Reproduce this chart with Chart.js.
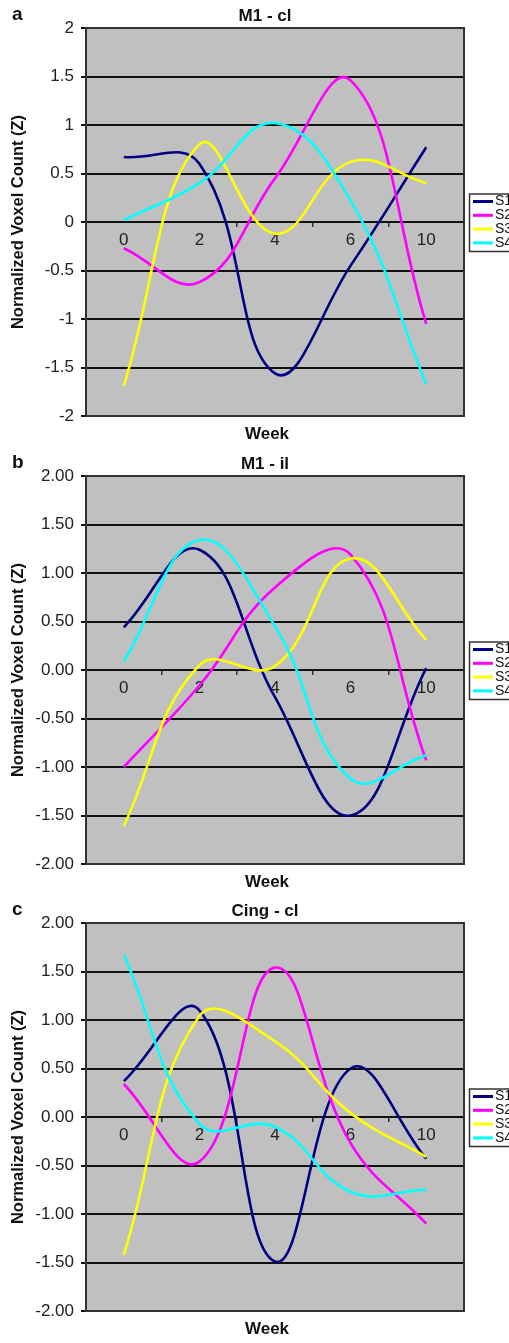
<!DOCTYPE html>
<html>
<head>
<meta charset="utf-8">
<script src="https://cdn.jsdelivr.net/npm/chart.js@4.4.0/dist/chart.umd.min.js"></script>
<style>
    body { margin: 0; background: #fff; width: 509px; height: 1343px; overflow: hidden; position: relative; }
    canvas { position: absolute; left: 0; }
</style>
</head>
<body>
<canvas id="chartA" width="509" height="448" style="top:0px"></canvas>
<canvas id="chartB" width="509" height="448" style="top:448px"></canvas>
<canvas id="chartC" width="509" height="448" style="top:895px"></canvas>
<script>
// categories (week) and series names
var weeks = ['0', '2', '4', '6', '10'];
var seriesNames = ['S1', 'S2', 'S3', 'S4'];
var seriesColors = ['#000080', '#ff00ff', '#ffff00', '#00ffff'];
var yTickValues = [-2, -1.5, -1, -0.5, 0, 0.5, 1, 1.5, 2];

// a: M1 - cl
var m1clS1 = [0.67, 0.60, -1.56, -0.45, 0.77];
var m1clS2 = [-0.27, -0.62, 0.45, 1.46, -1.05];
var m1clS3 = [-1.69, 0.80, -0.12, 0.62, 0.40];
var m1clS4 = [0.02, 0.40, 1.02, 0.22, -1.67];

// b: M1 - il
var m1ilS1 = [0.44, 1.24, -0.28, -1.50, 0.02];
var m1ilS2 = [-1.00, -0.16, 0.85, 1.19, -0.93];
var m1ilS3 = [-1.61, 0.05, 0.04, 1.15, 0.31];
var m1ilS4 = [0.09, 1.34, 0.45, -1.12, -0.88];

// c: Cing - cl
var cingS1 = [0.37, 1.10, -1.49, 0.50, -0.43];
var cingS2 = [0.34, -0.46, 1.54, -0.27, -1.10];
var cingS3 = [-1.42, 1.04, 0.78, 0.04, -0.41];
var cingS4 = [1.67, -0.07, -0.10, -0.77, -0.75];

Chart.defaults.font.family = "'Liberation Sans', Arial, sans-serif";
Chart.defaults.color = '#111';

// grey plot area, frame, letter, titles and legend box
var panelDecor = {
    id: 'panelDecor',
    beforeDraw: function (chart) {
        var a = chart.chartArea;
        var ctx = chart.ctx;
        ctx.save();
        ctx.fillStyle = '#c0c0c0';
        ctx.fillRect(a.left, a.top, a.right - a.left, a.bottom - a.top);
        ctx.restore();
    },
    afterDatasetsDraw: function (chart) {
        var a = chart.chartArea;
        var ctx = chart.ctx;
        ctx.save();
        ctx.strokeStyle = '#333';
        ctx.lineWidth = 2;
        ctx.strokeRect(a.left, a.top, a.right - a.left, a.bottom - a.top);
        ctx.restore();
    },
    afterDraw: function (chart, args, opts) {
        var a = chart.chartArea;
        var ctx = chart.ctx;
        var fam = Chart.defaults.font.family;
        ctx.save();
        ctx.fillStyle = '#111';
        ctx.textBaseline = 'middle';

        ctx.font = 'bold 19px ' + fam;
        ctx.textAlign = 'left';
        ctx.fillText(opts.letter, 12, 15);

        ctx.font = 'bold 17px ' + fam;
        ctx.textAlign = 'center';
        ctx.fillText(opts.title, 265, a.top - 12);
        ctx.fillText('Week', 267, a.bottom + 18);

        // legend
        var boxTop = a.top + 166;
        ctx.fillStyle = '#fff';
        ctx.fillRect(469.5, boxTop, 50, 57.5);
        ctx.strokeStyle = '#333';
        ctx.lineWidth = 1.5;
        ctx.strokeRect(469.5, boxTop, 50, 57.5);
        ctx.font = '14px ' + fam;
        ctx.textAlign = 'left';
        chart.data.datasets.forEach(function (ds, i) {
            var y = boxTop + 7.5 + i * 13.8;
            ctx.strokeStyle = ds.borderColor;
            ctx.lineWidth = 3;
            ctx.beginPath();
            ctx.moveTo(473, y);
            ctx.lineTo(493, y);
            ctx.stroke();
            ctx.fillStyle = '#111';
            ctx.fillText(ds.label, 495, y);
        });
        ctx.restore();
    }
};

function makeDatasets(values) {
    var sets = [];
    for (var i = 0; i < values.length; i++) {
        sets.push({
            label: seriesNames[i],
            data: values[i],
            borderColor: seriesColors[i],
            backgroundColor: seriesColors[i],
            borderWidth: 2.6,
            pointRadius: 0,
            fill: false,
            tension: 0.42,
            order: values.length - i
        });
    }
    return sets;
}

function drawPanel(canvasId, letter, title, values, decimals) {
    var ctx = document.getElementById(canvasId).getContext('2d');
    return new Chart(ctx, {
        type: 'line',
        data: {
            labels: weeks,
            datasets: makeDatasets(values)
        },
        plugins: [panelDecor],
        options: {
            responsive: false,
            animation: false,
            layout: { padding: { left: 0, right: 45, top: 28, bottom: 32 } },
            plugins: {
                legend: { display: false },
                tooltip: { enabled: false },
                panelDecor: { letter: letter, title: title }
            },
            scales: {
                x: {
                    type: 'category',
                    position: { y: 0 },
                    offset: true,
                    grid: {
                        display: true,
                        drawOnChartArea: false,
                        drawTicks: true,
                        tickLength: 4,
                        offset: true,
                        color: '#333',
                        lineWidth: 1.5
                    },
                    border: { display: true, color: '#111', width: 2 },
                    ticks: {
                        padding: 4,
                        maxRotation: 0,
                        autoSkip: false,
                        color: '#222',
                        font: { size: 17 }
                    }
                },
                y: {
                    min: -2,
                    max: 2,
                    afterFit: function (scale) {
                        scale.width = 86;
                    },
                    afterBuildTicks: function (scale) {
                        scale.ticks = yTickValues.map(function (v) {
                            return { value: v };
                        });
                    },
                    grid: {
                        color: '#111',
                        lineWidth: 2,
                        drawTicks: true,
                        tickLength: 5
                    },
                    border: { display: true, color: '#333', width: 2 },
                    ticks: {
                        padding: 7,
                        color: '#222',
                        font: { size: 17 },
                        callback: function (v) {
                            return decimals ? v.toFixed(decimals) : String(v);
                        }
                    },
                    title: {
                        display: true,
                        text: 'Normalized Voxel Count (Z)',
                        color: '#111',
                        font: { size: 16.5, weight: 'bold' },
                        padding: { top: 9, bottom: 0 }
                    }
                }
            }
        }
    });
}

drawPanel('chartA', 'a', 'M1 - cl', [m1clS1, m1clS2, m1clS3, m1clS4], 0);
drawPanel('chartB', 'b', 'M1 - il', [m1ilS1, m1ilS2, m1ilS3, m1ilS4], 2);
drawPanel('chartC', 'c', 'Cing - cl', [cingS1, cingS2, cingS3, cingS4], 2);
</script>
</body>
</html>
